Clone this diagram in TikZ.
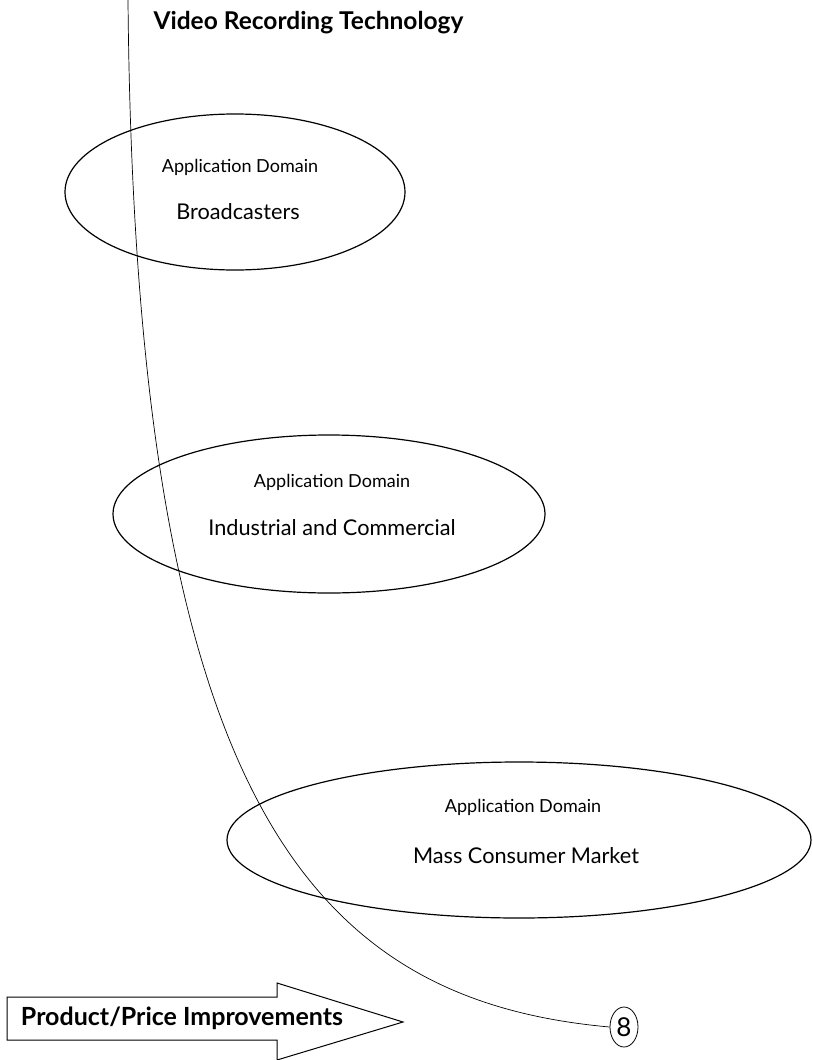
\documentclass[tikz,border=0pt]{standalone}
\usepackage{fontspec}
\setmainfont{Lato}
\usetikzlibrary{shapes.geometric}
\begin{document}
\begin{tikzpicture}[x=1pt,y=-1pt,
    appdomain/.style={draw,ellipse,line width=1.2pt,inner sep=0pt},
    small/.style={font=\fontsize{18}{22}\selectfont},
    large/.style={font=\fontsize{21.7}{26}\selectfont},
    heading/.style={font=\bfseries\fontsize{24.5}{28}\selectfont}]
  \useasboundingbox (0,0) rectangle (813,1060);
  \node[heading,anchor=base west] (title) at (150,29) {Video Recording Technology};
  % the three domains
  \node[appdomain,minimum width=340,minimum height=156] (bc) at (235,192) {};
  \node[small] (bcA) at (240,167) {Application Domain};
  \node[large] (bcB) at (238,212) {Broadcasters};
  \node[appdomain,minimum width=432,minimum height=158] (ic) at (329,514) {};
  \node[small] (icA) at (332,482) {Application Domain};
  \node[large] (icB) at (332,528) {Industrial and Commercial};
  \node[appdomain,minimum width=584,minimum height=156] (mc) at (519,840) {};
  \node[small] (mcA) at (523,807) {Application Domain};
  \node[large] (mcB) at (526,856) {Mass Consumer Market};
  % improvements arrow
  \draw[line width=1pt,fill=white] (7,997) -- (277,997) -- (277,983) -- (403,1022)
    -- (277,1060) -- (277,1040) -- (7,1040) -- cycle;
  \node[heading,font=\bfseries\fontsize{25}{28}\selectfont] (improve) at (182,1018) {Product/Price Improvements};
  % technology curve
  \node[draw,ellipse,line width=0.8pt,minimum width=28,minimum height=40,inner sep=0pt,
    font=\fontsize{26}{28}\selectfont] (eight) at (624,1027) {8};
  \coordinate (top) at (128,0);
  \draw[line width=0.7pt] (top) .. controls (135,800) and (310,1000) .. (eight.west);
\end{tikzpicture}
\end{document}
